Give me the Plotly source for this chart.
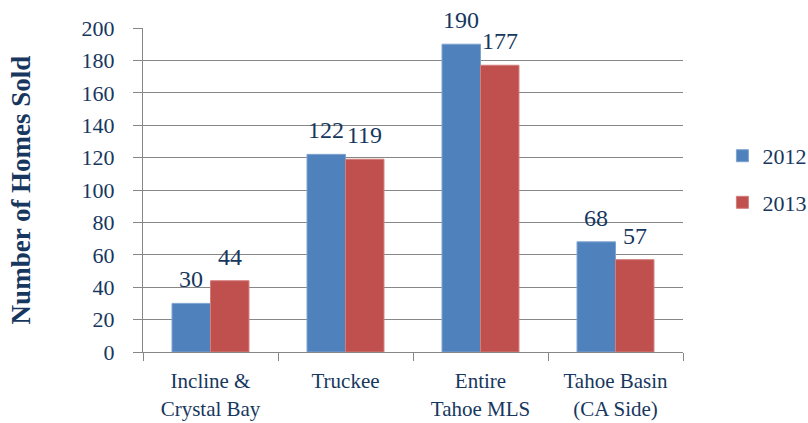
import plotly.graph_objects as go

categories = ["Incline &<br>Crystal Bay", "Truckee", "Entire<br>Tahoe MLS", "Tahoe Basin<br>(CA Side)"]
sales_2012 = [30, 122, 190, 68]
sales_2013 = [44, 119, 177, 57]
y_ticks = list(range(0, 201, 20))

FONT = "Palatino Linotype, Book Antiqua, Palatino, Liberation Serif, serif"
NAVY = "#17375E"
GRID = "#878787"
BARGAP = 0.43
PLOT_W = 808 - 143 - 125
HALF_BAR = PLOT_W / len(categories) * (1 - BARGAP) / 4

fig = go.Figure()
fig.add_trace(go.Bar(
    x=categories, y=sales_2012, name="2012", legendgroup="a",
    marker=dict(color="#4F81BD", line=dict(color="#7FA3D1", width=1)),
))
fig.add_trace(go.Bar(
    x=categories, y=sales_2013, name="2013", legendgroup="b",
    marker=dict(color="#C0504D", line=dict(color="#D27E7B", width=1)),
))

for series, shift in ((sales_2012, -HALF_BAR), (sales_2013, HALF_BAR)):
    for cat, v in zip(categories, series):
        fig.add_annotation(
            x=cat, y=v, text=str(v), showarrow=False,
            xanchor="center", yanchor="bottom", xshift=shift, yshift=9,
            font=dict(family=FONT, size=24, color=NAVY),
        )

fig.update_layout(
    width=808, height=423,
    margin=dict(l=143, r=125, t=28, b=71, autoexpand=False),
    paper_bgcolor="white", plot_bgcolor="white",
    font=dict(family=FONT, color=NAVY, size=18),
    barmode="group", bargap=BARGAP, bargroupgap=0,
    showlegend=True,
    legend=dict(x=1.073, y=0.67, xanchor="left", yanchor="top",
                font=dict(family=FONT, size=22, color=NAVY),
                tracegroupgap=15, itemwidth=30),
)
fig.update_yaxes(
    range=[0, 200], tickvals=y_ticks, ticktext=[str(v) for v in y_ticks],
    showgrid=True, gridcolor=GRID, gridwidth=1.3,
    showline=True, linecolor=GRID, linewidth=1.3,
    ticks="outside", ticklen=9, tickcolor=GRID, tickwidth=1.3,
    ticklabelstandoff=14,
    tickfont=dict(family=FONT, size=22, color=NAVY),
    title=dict(text="<b>Number of Homes Sold</b>", standoff=43,
               font=dict(family=FONT, size=27, color=NAVY)),
    zeroline=False, automargin=False,
)
fig.update_xaxes(
    showline=True, linecolor=GRID, linewidth=1.3,
    ticks="outside", tickson="boundaries", ticklen=8, tickcolor=GRID, tickwidth=1.3,
    ticklabelstandoff=10,
    tickfont=dict(family=FONT, size=21, color=NAVY),
    showgrid=False, automargin=False,
)

fig.write_html("out.html")
